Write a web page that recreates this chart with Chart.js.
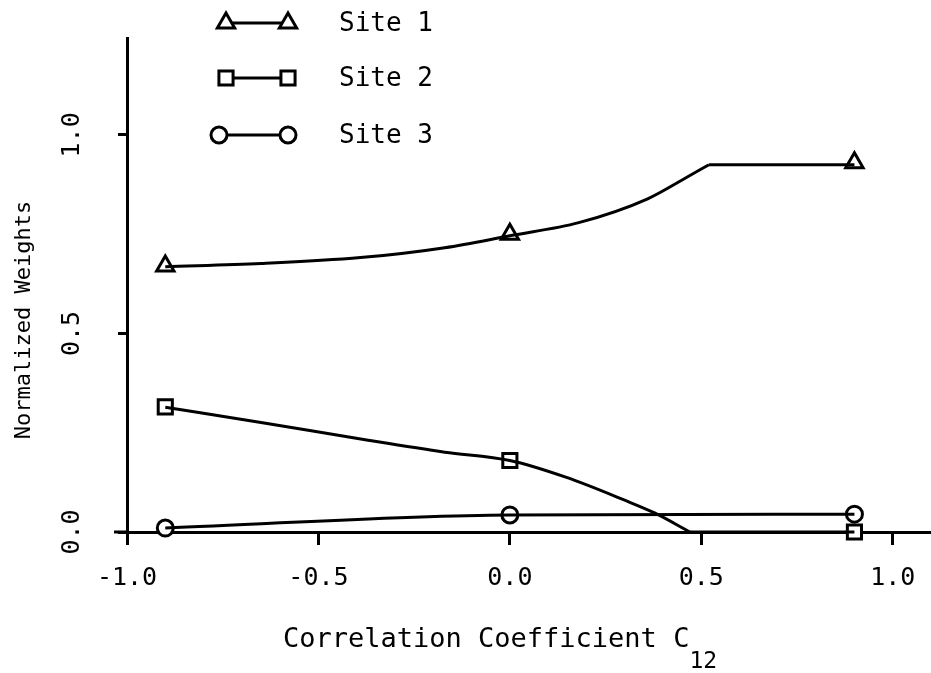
<!DOCTYPE html>
<html>
<head>
<meta charset="utf-8">
<script src="https://cdn.jsdelivr.net/npm/chart.js@4.4.0/dist/chart.umd.min.js"></script>
<style>
  html, body { margin: 0; background: #fff; }
  #wrap { width: 931px; height: 673px; }
</style>
</head>
<body>
<div id="wrap"><canvas id="weights"></canvas></div>
<script>
// tick labels
const xTicks = [-1.0, -0.5, 0.0, 0.5, 1.0];
const yTicks = [0.0, 0.5, 1.0];

// computed points (markers)
const correlations = [-0.9, 0.0, 0.9];
const site1 = [0.67, 0.75, 0.93];
const site2 = [0.315, 0.18, 0.0];
const site3 = [0.01, 0.043, 0.045];

// hand drawn curves through the points
// (the kinks at the end of the curved parts are sharp, so the flat runs are separate)
const site1CurveX = [-0.9, -0.65, -0.39, -0.17, 0.0, 0.18, 0.36, 0.46, 0.52];
const site1CurveY = [0.668, 0.676, 0.691, 0.716, 0.746, 0.779, 0.839, 0.892, 0.925];
const site1FlatX = [0.52, 0.9];
const site1FlatY = [0.925, 0.925];
const site2CurveX = [-0.9, -0.65, -0.37, -0.17, 0.0, 0.146, 0.30, 0.378, 0.47];
const site2CurveY = [0.314, 0.276, 0.231, 0.201, 0.18, 0.138, 0.08, 0.048, 0.0];
const site2FlatX = [0.47, 0.9];
const site2FlatY = [0.0, 0.0];
const site3CurveX = [-0.9, 0.0, 0.9];
const site3CurveY = [0.01, 0.043, 0.045];

const siteNames = ['Site 1', 'Site 2', 'Site 3'];

const FONT = '"DejaVu Sans Mono", "Liberation Mono", monospace';
const markers = [
    { pointStyle: 'triangle', radius: 10 },
    { pointStyle: 'rect', radius: 10 },
    { pointStyle: 'circle', radius: 8 }
];

function pts(xs, ys) {
    return xs.map((x, i) => ({ x: x, y: ys[i] }));
}

function curve(xs, ys) {
    return {
        data: pts(xs, ys),
        borderColor: '#000',
        borderWidth: 3,
        pointRadius: 0,
        cubicInterpolationMode: 'monotone',
        clip: false
    };
}

function marks(ys, m) {
    return {
        data: pts(correlations, ys),
        showLine: false,
        pointStyle: m.pointStyle,
        pointRadius: m.radius,
        pointBorderWidth: 3,
        pointBorderColor: '#000',
        pointBackgroundColor: '#fff',
        clip: false
    };
}

// legend: marker - line - marker, text to the right
const siteLegend = {
    id: 'siteLegend',
    afterDraw(chart) {
        const ctx = chart.ctx;
        const rowsY = [23, 78, 135];
        ctx.save();
        siteNames.forEach((name, i) => {
            const y = rowsY[i];
            const x0 = i == 2 ? 219 : 226;
            const x1 = 288;
            ctx.strokeStyle = '#000';
            ctx.lineWidth = 3;
            ctx.beginPath();
            ctx.moveTo(x0, y);
            ctx.lineTo(x1, y);
            ctx.stroke();
            ctx.fillStyle = '#fff';
            [x0, x1].forEach(x => {
                Chart.helpers.drawPoint(ctx, { pointStyle: markers[i].pointStyle, radius: markers[i].radius, rotation: 0, borderWidth: 3 }, x, y);
            });
            ctx.fillStyle = '#000';
            ctx.font = '26px ' + FONT;
            ctx.textBaseline = 'middle';
            ctx.textAlign = 'left';
            ctx.fillText(name, 339, y + 1);
        });
        ctx.restore();
    }
};

// axis titles, with the subscript on C12
const axisTitles = {
    id: 'axisTitles',
    afterDraw(chart) {
        const ctx = chart.ctx;
        const area = chart.chartArea;
        ctx.save();
        // the x axis runs a little past the y axis on the left
        ctx.strokeStyle = '#000';
        ctx.lineWidth = 3;
        ctx.beginPath();
        ctx.moveTo(area.left - 13, area.bottom);
        ctx.lineTo(area.left, area.bottom);
        ctx.stroke();

        ctx.fillStyle = '#000';
        ctx.textBaseline = 'alphabetic';
        ctx.textAlign = 'left';
        ctx.font = '27px ' + FONT;
        const main = 'Correlation Coefficient C';
        ctx.fillText(main, 283, 647);
        const w = ctx.measureText(main).width;
        ctx.font = '23px ' + FONT;
        ctx.fillText('12', 283 + w, 668);

        ctx.translate(24, 320);
        ctx.rotate(-Math.PI / 2);
        ctx.font = '22px ' + FONT;
        ctx.textAlign = 'center';
        ctx.textBaseline = 'middle';
        ctx.fillText('Normalized Weights', 0, 0);
        ctx.restore();
    }
};

new Chart(document.getElementById('weights'), {
    type: 'line',
    data: {
        datasets: [
            curve(site1CurveX, site1CurveY),
            curve(site1FlatX, site1FlatY),
            curve(site2CurveX, site2CurveY),
            curve(site2FlatX, site2FlatY),
            curve(site3CurveX, site3CurveY),
            marks(site1, markers[0]),
            marks(site2, markers[1]),
            marks(site3, markers[2])
        ]
    },
    options: {
        responsive: true,
        maintainAspectRatio: false,
        animation: false,
        layout: { autoPadding: false, padding: { top: 38, right: 0, left: 0, bottom: 0 } },
        plugins: {
            legend: { display: false },
            tooltip: { enabled: false }
        },
        scales: {
            x: {
                type: 'linear',
                min: -1.0,
                max: 1.1,
                afterBuildTicks: s => { s.ticks = xTicks.map(v => ({ value: v })); },
                afterFit: s => { s.height = 141; s.paddingRight = 0; s.paddingLeft = 0; },
                grid: { drawOnChartArea: false, drawTicks: true, tickLength: 13, lineWidth: 3, color: '#000' },
                border: { color: '#000', width: 3 },
                ticks: {
                    color: '#000',
                    padding: 18,
                    maxRotation: 0,
                    font: { family: FONT, size: 25 },
                    callback: v => v.toFixed(1)
                }
            },
            y: {
                type: 'linear',
                min: 0,
                max: 1.244,
                afterBuildTicks: s => { s.ticks = yTicks.map(v => ({ value: v })); },
                afterFit: s => { s.width = 127; },
                grid: { drawOnChartArea: false, drawTicks: true, tickLength: 9, lineWidth: 3, color: '#000' },
                border: { color: '#000', width: 3 },
                ticks: {
                    color: '#000',
                    padding: 23,
                    minRotation: 90,
                    maxRotation: 90,
                    crossAlign: 'center',
                    font: { family: FONT, size: 25 },
                    callback: v => v.toFixed(1)
                }
            }
        }
    },
    plugins: [siteLegend, axisTitles]
});
</script>
</body>
</html>
